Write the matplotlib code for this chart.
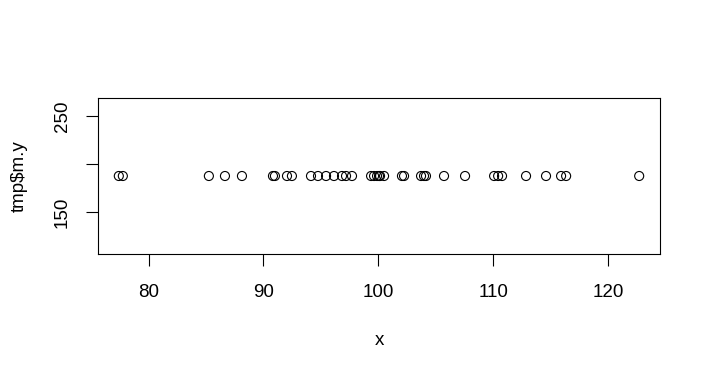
import matplotlib
matplotlib.use("Agg")
import matplotlib.pyplot as plt

# values (all points sit at the same y)
x_vals = [77.41, 77.76, 85.25, 86.65, 88.13, 90.83, 91.00, 92.05, 92.48,
          94.14, 94.75, 95.45, 96.14, 96.84, 97.19, 97.71, 99.37, 99.63,
          99.89, 100.06, 100.15, 100.50, 102.06, 102.24, 103.72, 103.98,
          104.15, 105.72, 107.55, 110.08, 110.43, 110.77, 112.86, 114.60,
          115.91, 116.35, 122.71]
y_val = 188
y_vals = [y_val] * len(x_vals)

x_ticks = [80, 90, 100, 110, 120]
y_ticks = [150, 200, 250]
y_tick_labels = ["150", "", "250"]  # R drops the middle label (overlap)

plt.rcParams['font.family'] = ['Liberation Sans', 'DejaVu Sans']

fig = plt.figure(figsize=(7.12, 3.76), dpi=100)
ax = fig.add_axes([98 / 712, 1 - 254 / 376, (660 - 98) / 712, (254 - 98) / 376])

ax.scatter(x_vals, y_vals, s=6.5 ** 2, facecolors='none', edgecolors='black', linewidths=0.8)

# R-style limits: 4% padding, zero-range y widened by 40%
rng = max(x_vals) - min(x_vals)
ax.set_xlim(min(x_vals) - 0.04 * rng, max(x_vals) + 0.04 * rng)
ylo, yhi = y_val * 0.6, y_val * 1.4
ax.set_ylim(ylo - 0.04 * (yhi - ylo), yhi + 0.04 * (yhi - ylo))

ax.set_xticks(x_ticks)
ax.set_yticks(y_ticks)
ax.set_yticklabels(y_tick_labels, rotation=90, va='center')
ax.tick_params(direction='out', length=8.6, width=0.8, labelsize=13.5)
ax.tick_params(axis='x', pad=13)
ax.tick_params(axis='y', pad=11)
for sp in ax.spines.values():
    sp.set_linewidth(0.8)

ax.set_xlabel("x", fontsize=13.5, labelpad=22)
ax.set_ylabel(r"tmp\$m.y", fontsize=13.5, labelpad=19)

fig.savefig("out.png", dpi=100)
